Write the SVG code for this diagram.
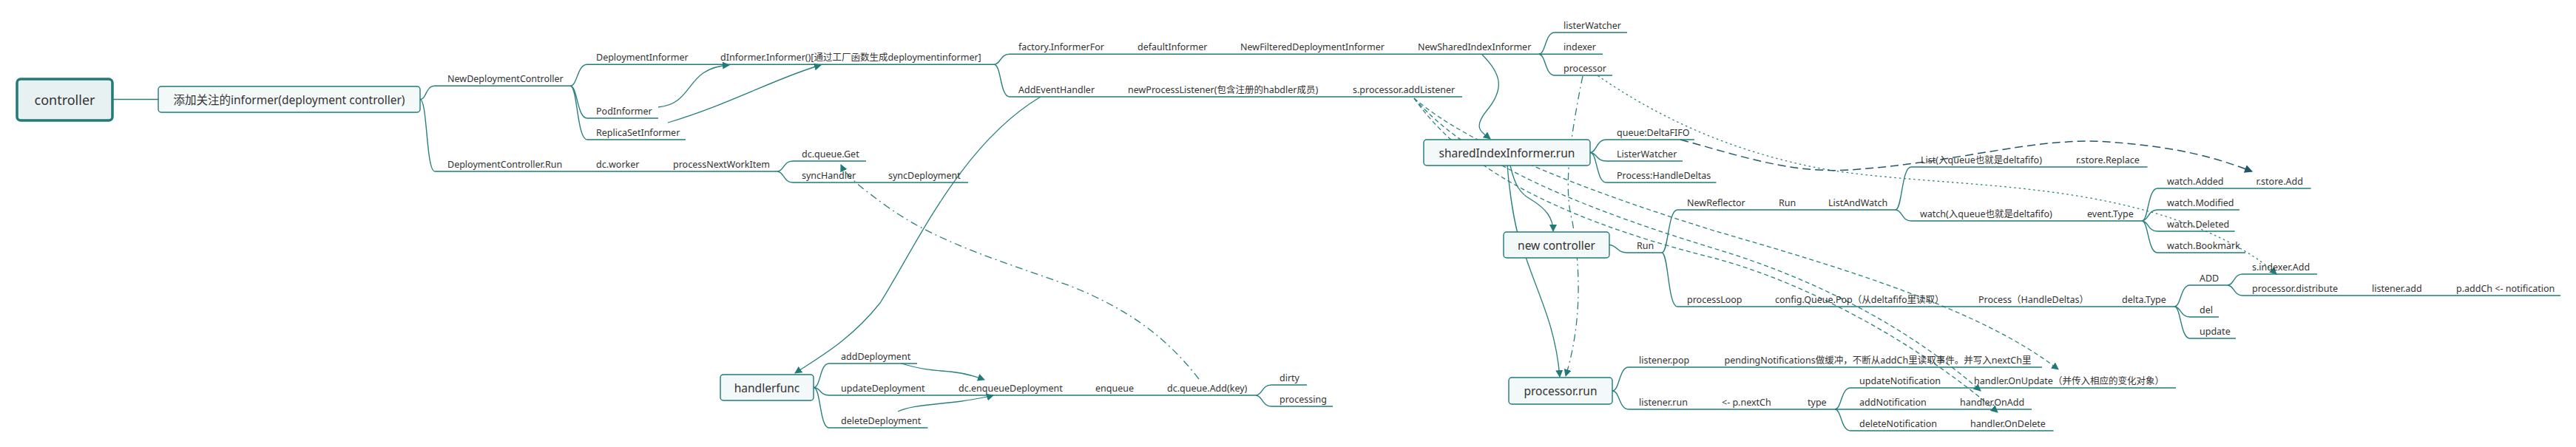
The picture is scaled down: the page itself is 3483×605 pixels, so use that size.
<svg xmlns="http://www.w3.org/2000/svg" width="3483" height="605" viewBox="0 0 3483 605">
<defs>
<style>
.ln{fill:none;stroke:#2a807e;stroke-width:1.4}
.ul{fill:none;stroke:#1f7a78;stroke-width:1.5}
.lk{fill:none;stroke:#2a807e;stroke-width:1.3}
.dash{stroke-dasharray:6 4}
.dd{stroke-dasharray:10 5 2 5}
.dot{stroke-dasharray:1.5 5;stroke-linecap:round}
.navy{fill:none;stroke:#23566c;stroke-width:1.5;stroke-dasharray:11 6}
.box{fill:#f3f8f8;stroke:#1f7a78;stroke-width:1.4}
.root{fill:#e7f1f1;stroke:#1f7a78;stroke-width:3.5}
text{font-family:"Noto Sans","Noto Sans CJK SC",sans-serif;fill:#333}
.lb{font-size:12.5px}
.bt{font-size:15.5px;text-anchor:middle;dominant-baseline:central}
.rt{font-size:18px;text-anchor:middle;dominant-baseline:central}
</style>
<marker id="ar" viewBox="0 0 10 10" refX="9" refY="5" markerWidth="10" markerHeight="10" markerUnits="userSpaceOnUse" orient="auto"><path d="M0,0 L10,5 L0,10 z" fill="#1f7a78"/></marker>
<marker id="arN" viewBox="0 0 10 10" refX="9" refY="5" markerWidth="11" markerHeight="11" markerUnits="userSpaceOnUse" orient="auto"><path d="M0,0 L10,5 L0,10 z" fill="#23566c"/></marker>
</defs>
<rect width="3483" height="605" fill="#ffffff"/>
<g id="connectors">
<path class="ln" d="M152,134.5 H214"/>
<path class="ln" d="M568,134.5 C577,134.5 575,116.3 588,116.3"/>
<path class="ln" d="M568,134.5 C578,134.5 576,232 588,232"/>
<path class="ln" d="M771,116.3 C781,116.3 780,87.3 794,87.3"/>
<path class="ln" d="M771,116.3 C781,116.3 780,160 794,160"/>
<path class="ln" d="M771,116.3 C781,116.3 780,189 794,189"/>
<path class="ln" d="M1051,232 C1060,232 1059,218 1072,218"/>
<path class="ln" d="M1051,232 C1060,232 1059,247 1072,247"/>
<path class="ln" d="M1344,87.3 C1353,87.3 1352,73.3 1365,73.3"/>
<path class="ln" d="M1344,87.3 C1354,87.3 1352,131 1365,131"/>
<path class="ln" d="M2080.6,73.3 C2090,73.3 2089,44 2102,44"/>
<path class="ln" d="M2080.6,73.3 C2090,73.3 2089,102 2102,102"/>
<path class="ln" d="M2150,206.5 C2159,206.5 2158,189 2172,189"/>
<path class="ln" d="M2150,206.5 C2159,206.5 2158,218 2172,218"/>
<path class="ln" d="M2150,206.5 C2160,206.5 2158,247 2172,247"/>
<path class="ln" d="M2176,331.5 C2186,331.5 2186,342 2200,342"/>
<path class="ln" d="M2247,342 C2256,342 2255,284 2268,284"/>
<path class="ln" d="M2247,342 C2256,342 2255,415 2268,415"/>
<path class="ln" d="M2563,284 C2572,284 2571,226 2584,226"/>
<path class="ln" d="M2563,284 C2572,284 2571,299 2584,299"/>
<path class="ln" d="M2896,299 C2905,299 2904,255 2917,255"/>
<path class="ln" d="M2896,299 C2905,299 2904,284 2917,284"/>
<path class="ln" d="M2896,299 C2905,299 2904,313 2917,313"/>
<path class="ln" d="M2896,299 C2905,299 2904,342 2917,342"/>
<path class="ln" d="M2940,415 C2949,415 2948,386 2961,386"/>
<path class="ln" d="M2940,415 C2949,415 2948,429 2961,429"/>
<path class="ln" d="M2940,415 C2949,415 2948,458 2961,458"/>
<path class="ln" d="M3011.5,386 C3021,386 3020,371 3032,371"/>
<path class="ln" d="M3011.5,386 C3021,386 3020,400 3032,400"/>
<path class="ln" d="M2180,529 C2190,529 2189,497 2202,497"/>
<path class="ln" d="M2180,529 C2190,529 2189,554 2202,554"/>
<path class="ln" d="M2481,554 C2490,554 2489,525 2502,525"/>
<path class="ln" d="M2481,554 C2490,554 2489,583 2502,583"/>
<path class="ln" d="M1100,524.5 C1110,524.5 1108,492 1121,492"/>
<path class="ln" d="M1100,524.5 C1110,524.5 1108,535 1121,535"/>
<path class="ln" d="M1100,524.5 C1110,524.5 1108,579 1121,579"/>
<path class="ln" d="M1698,535 C1707,535 1706,521 1719,521"/>
<path class="ln" d="M1698,535 C1707,535 1706,550 1719,550"/>
<path class="lk" marker-end="url(#ar)" d="M890,145 C940,140 925,92 986,88"/>
<path class="lk" marker-end="url(#ar)" d="M903,166 C990,140 1050,105 1110,88"/>
<path class="lk" marker-end="url(#ar)" d="M1407,131 C1300,195 1240,330 1190,410 C1150,460 1110,482 1075,505"/>
<path class="lk" marker-end="url(#ar)" d="M2004,74 C2030,100 2035,120 2010,150 C1990,175 2005,180 2015,188"/>
<path class="lk dash" marker-end="url(#ar)" d="M1912,133 C1990,200 2150,260 2320,313 C2500,365 2680,420 2783,500"/>
<path class="lk dash" marker-end="url(#ar)" d="M1912,133 C1980,210 2100,270 2320,337 C2480,385 2600,460 2678,529"/>
<path class="lk dash" marker-end="url(#ar)" d="M1912,133 C1970,215 2080,290 2320,350 C2450,385 2600,470 2701,558"/>
<path class="lk dd" marker-end="url(#ar)" d="M2140,103 C2120,200 2115,260 2126,300 C2140,380 2135,450 2117,509"/>
<path class="lk dot" marker-end="url(#ar)" d="M2161,103 C2230,150 2330,205 2473,230 C2600,250 2750,245 2894,283 C2990,308 3050,345 3078,371"/>
<path class="navy" marker-end="url(#arN)" d="M2272,189 C2350,210 2420,235 2500,230 C2650,220 2750,185 2850,192 C2950,199 3000,215 3045,232"/>
<path class="lk dd" marker-end="url(#ar)" d="M1621,513 C1580,460 1530,420 1447,387 C1360,355 1270,330 1200,280 C1170,258 1145,240 1137,223"/>
<path class="lk" marker-end="url(#ar)" d="M1219,492 C1245,500 1260,501 1285,503 C1305,505 1318,509 1331,514"/>
<path class="lk" marker-end="url(#ar)" d="M1214,557 C1230,549 1260,548 1300,543 C1320,540 1333,538 1343,535"/>
<path class="lk" marker-end="url(#ar)" d="M2042,224 C2048,250 2055,262 2070,270 C2090,282 2100,295 2100,313"/>
<path class="lk" marker-end="url(#ar)" d="M2038,224 C2042,270 2050,320 2062,345 C2080,400 2103,440 2109,510"/>
</g>
<g id="n-controller"><rect class="root" x="23" y="107" width="129" height="56" rx="5"/><text class="rt" x="87.5" y="135">controller</text></g>
<g id="n-add"><rect class="box" x="214" y="117" width="354" height="35" rx="4"/><text class="bt" x="391" y="134.5">添加关注的informer(deployment controller)</text></g>
<g id="n-sii"><rect class="box" x="1925" y="189" width="225" height="35" rx="4"/><text class="bt" x="2037.5" y="206.5">sharedIndexInformer.run</text></g>
<g id="n-handler"><rect class="box" x="974" y="507" width="126" height="35" rx="4"/><text class="bt" x="1037" y="524.5">handlerfunc</text></g>
<g id="n-newctrl"><rect class="box" x="2033" y="314" width="143" height="35" rx="4"/><text class="bt" x="2104.5" y="331.5">new controller</text></g>
<g id="n-prun"><rect class="box" x="2040" y="511" width="140" height="36" rx="4"/><text class="bt" x="2110" y="529">processor.run</text></g>
<g id="l-newdc"><path class="ul" d="M588,116.3 H771"/><text class="lb" x="605" y="111">NewDeploymentController</text></g>
<g id="l-dcrun"><path class="ul" d="M588,232 H1051"/><text class="lb" x="605" y="227">DeploymentController.Run</text><text class="lb" x="806" y="227">dc.worker</text><text class="lb" x="910" y="227">processNextWorkItem</text></g>
<g id="l-dinf"><path class="ul" d="M794,87.3 H1344"/><text class="lb" x="806" y="82">DeploymentInformer</text><text class="lb" x="974" y="82">dInformer.Informer()[通过工厂函数生成deploymentinformer]</text></g>
<g id="l-pod"><path class="ul" d="M794,160 H890"/><text class="lb" x="806" y="155">PodInformer</text></g>
<g id="l-rs"><path class="ul" d="M794,189 H927"/><text class="lb" x="806" y="184">ReplicaSetInformer</text></g>
<g id="l-qget"><path class="ul" d="M1072,218 H1171"/><text class="lb" x="1084" y="213">dc.queue.Get</text></g>
<g id="l-synch"><path class="ul" d="M1072,247 H1309"/><text class="lb" x="1084" y="242">syncHandler</text><text class="lb" x="1201" y="242">syncDeployment</text></g>
<g id="l-factory"><path class="ul" d="M1365,73.3 H2080.6"/><text class="lb" x="1377" y="68">factory.InformerFor</text><text class="lb" x="1538" y="68">defaultInformer</text><text class="lb" x="1677" y="68">NewFilteredDeploymentInformer</text><text class="lb" x="1917" y="68">NewSharedIndexInformer</text></g>
<g id="l-addeh"><path class="ul" d="M1365,131 H1977"/><text class="lb" x="1377" y="126">AddEventHandler</text><text class="lb" x="1525" y="126">newProcessListener(包含注册的habdler成员)</text><text class="lb" x="1829" y="126">s.processor.addListener</text></g>
<g id="l-lw"><path class="ul" d="M2102,44 H2200"/><text class="lb" x="2114" y="39">listerWatcher</text></g>
<g id="l-idx"><path class="ul" d="M2080.6,73.3 H2167"/><text class="lb" x="2114" y="68">indexer</text></g>
<g id="l-proc"><path class="ul" d="M2102,102 H2180"/><text class="lb" x="2114" y="97">processor</text></g>
<g id="l-dfifo"><path class="ul" d="M2172,189 H2291"/><text class="lb" x="2186" y="184">queue:DeltaFIFO</text></g>
<g id="l-lw2"><path class="ul" d="M2172,218 H2275"/><text class="lb" x="2186" y="213">ListerWatcher</text></g>
<g id="l-hd"><path class="ul" d="M2172,247 H2320.5"/><text class="lb" x="2186" y="242">Process:HandleDeltas</text></g>
<g id="l-run"><path class="ul" d="M2200,342 H2247"/><text class="lb" x="2213" y="337">Run</text></g>
<g id="l-refl"><path class="ul" d="M2268,284 H2563"/><text class="lb" x="2281" y="279">NewReflector</text><text class="lb" x="2405" y="279">Run</text><text class="lb" x="2472" y="279">ListAndWatch</text></g>
<g id="l-ploop"><path class="ul" d="M2268,415 H2940"/><text class="lb" x="2281" y="410">processLoop</text><text class="lb" x="2400" y="410">config.Queue.Pop（从deltafifo里读取）</text><text class="lb" x="2675" y="410">Process（HandleDeltas）</text><text class="lb" x="2869" y="410">delta.Type</text></g>
<g id="l-list"><path class="ul" d="M2584,226 H2903.6"/><text class="lb" x="2597" y="221">List(入queue也就是deltafifo)</text><text class="lb" x="2807" y="221">r.store.Replace</text></g>
<g id="l-watch"><path class="ul" d="M2584,299 H2896"/><text class="lb" x="2596" y="294">watch(入queue也就是deltafifo)</text><text class="lb" x="2822" y="294">event.Type</text></g>
<g id="l-wadd"><path class="ul" d="M2917,255 H3124.6"/><text class="lb" x="2930" y="250">watch.Added</text><text class="lb" x="3050.6" y="250">r.store.Add</text></g>
<g id="l-wmod"><path class="ul" d="M2917,284 H3028"/><text class="lb" x="2930" y="279">watch.Modified</text></g>
<g id="l-wdel"><path class="ul" d="M2917,313 H3021.6"/><text class="lb" x="2930" y="308">watch.Deleted</text></g>
<g id="l-wbm"><path class="ul" d="M2917,342 H3036"/><text class="lb" x="2930" y="337">watch.Bookmark</text></g>
<g id="l-ADD"><path class="ul" d="M2961,386 H3011.5"/><text class="lb" x="2974" y="381">ADD</text></g>
<g id="l-del"><path class="ul" d="M2961,429 H3000"/><text class="lb" x="2974" y="424">del</text></g>
<g id="l-upd"><path class="ul" d="M2961,458 H3023"/><text class="lb" x="2974" y="453">update</text></g>
<g id="l-sidx"><path class="ul" d="M3032,371 H3133"/><text class="lb" x="3045" y="366">s.indexer.Add</text></g>
<g id="l-dist"><path class="ul" d="M3032,400 H3462"/><text class="lb" x="3045" y="395">processor.distribute</text><text class="lb" x="3207" y="395">listener.add</text><text class="lb" x="3321" y="395">p.addCh &lt;- notification</text></g>
<g id="l-pop"><path class="ul" d="M2202,497 H2761"/><text class="lb" x="2216" y="492">listener.pop</text><text class="lb" x="2331.5" y="492">pendingNotifications做缓冲，不断从addCh里读取事件。并写入nextCh里</text></g>
<g id="l-lrun"><path class="ul" d="M2202,554 H2481"/><text class="lb" x="2216" y="549">listener.run</text><text class="lb" x="2328" y="549">&lt;- p.nextCh</text><text class="lb" x="2444" y="549">type</text></g>
<g id="l-unot"><path class="ul" d="M2502,525 H2942"/><text class="lb" x="2514" y="520">updateNotification</text><text class="lb" x="2669" y="520">handler.OnUpdate（并传入相应的变化对象）</text></g>
<g id="l-anot"><path class="ul" d="M2481,554 H2747"/><text class="lb" x="2514" y="549">addNotification</text><text class="lb" x="2650" y="549">handler.OnAdd</text></g>
<g id="l-dnot"><path class="ul" d="M2502,583 H2776.6"/><text class="lb" x="2514" y="578">deleteNotification</text><text class="lb" x="2664" y="578">handler.OnDelete</text></g>
<g id="l-adddep"><path class="ul" d="M1121,492 H1240"/><text class="lb" x="1137" y="487">addDeployment</text></g>
<g id="l-upddep"><path class="ul" d="M1121,535 H1698"/><text class="lb" x="1137" y="530">updateDeployment</text><text class="lb" x="1296" y="530">dc.enqueueDeployment</text><text class="lb" x="1481" y="530">enqueue</text><text class="lb" x="1578" y="530">dc.queue.Add(key)</text></g>
<g id="l-deldep"><path class="ul" d="M1121,579 H1254.5"/><text class="lb" x="1137" y="574">deleteDeployment</text></g>
<g id="l-dirty"><path class="ul" d="M1719,521 H1767"/><text class="lb" x="1730" y="516">dirty</text></g>
<g id="l-procg"><path class="ul" d="M1719,550 H1802"/><text class="lb" x="1730" y="545">processing</text></g>
</svg>
